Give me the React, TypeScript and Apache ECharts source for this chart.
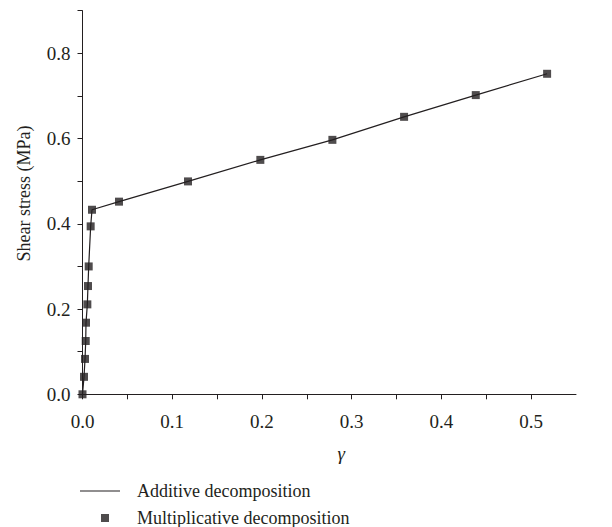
import React, { useEffect, useRef } from "react";
import * as echarts from "echarts";

const gammaValues = [
  0, 0.0017, 0.0028, 0.0036, 0.0039, 0.0054, 0.0061, 0.0069, 0.0091, 0.0106,
  0.0407, 0.1176, 0.1982, 0.2785, 0.3584, 0.4383, 0.5178,
];
const stressValues = [
  0, 0.041, 0.083, 0.125, 0.168, 0.211, 0.254, 0.3, 0.394, 0.433,
  0.452, 0.4995, 0.55, 0.597, 0.651, 0.702, 0.752,
];
const seriesNames = ["Additive decomposition", "Multiplicative decomposition"];
const xAxisName = "γ";
const yAxisName = "Shear stress (MPa)";

const INK = "#231f20";
const FONT = "'Liberation Serif', 'DejaVu Serif', serif";

export default function App() {
  const ref = useRef<HTMLDivElement>(null);
  useEffect(() => {
    if (!ref.current) return;
    const chart = echarts.init(ref.current, undefined, { renderer: "svg" });
    const pts = gammaValues.map((g, i) => [g, stressValues[i]]);
    chart.setOption({
      animation: false,
      backgroundColor: "#ffffff",
      textStyle: { fontFamily: FONT, color: INK },
      grid: { left: 82.5, right: 36, top: 10.7, bottom: 132.7, containLabel: false },
      xAxis: {
        type: "value",
        min: 0,
        max: 0.55,
        interval: 0.05,
        name: xAxisName,
        nameLocation: "middle",
        nameGap: 50,
        nameTextStyle: { fontFamily: FONT, fontSize: 19, fontStyle: "italic", color: INK, padding: [0, 0, 0, 24] },
        axisLine: { show: true, onZero: false, lineStyle: { color: INK, width: 1 } },
        axisTick: { show: true, inside: false, length: 5, lineStyle: { color: INK } },
        splitLine: { show: false },
        axisLabel: {
          fontFamily: FONT,
          fontSize: 19,
          color: INK,
          margin: 18,
          showMaxLabel: false,
          formatter: (v: number) => {
            const t = Math.round(v * 100);
            return t % 10 === 0 ? v.toFixed(1) : "";
          },
        },
      },
      yAxis: {
        type: "value",
        min: 0,
        max: 0.9,
        interval: 0.1,
        name: yAxisName,
        nameLocation: "middle",
        nameGap: 50,
        nameRotate: 90,
        nameTextStyle: { fontFamily: FONT, fontSize: 18, color: INK, padding: [0, 0, 0, 18] },
        axisLine: { show: true, onZero: false, lineStyle: { color: INK, width: 1 } },
        axisTick: { show: true, inside: false, length: 5, lineStyle: { color: INK } },
        splitLine: { show: false },
        axisLabel: {
          fontFamily: FONT,
          fontSize: 19,
          color: INK,
          margin: 12,
          formatter: (v: number) => {
            const t = Math.round(v * 10);
            return t % 2 === 0 ? v.toFixed(1) : "";
          },
        },
      },
      legend: [
        {
          data: [{ name: seriesNames[0], icon: "path://M0,0h40v1.2h-40z" }],
          left: 80,
          top: 482,
          padding: 0,
          itemWidth: 40,
          itemHeight: 14,
          textStyle: { fontFamily: FONT, fontSize: 18, color: INK, padding: [0, 0, 0, 12] },
        },
        {
          data: [{ name: seriesNames[1], icon: "rect" }],
          left: 101,
          top: 509,
          padding: 0,
          itemWidth: 8,
          itemHeight: 8,
          textStyle: { fontFamily: FONT, fontSize: 18, lineHeight: 18, color: INK, padding: [0, 0, 0, 23] },
        },
      ],
      series: [
        {
          name: seriesNames[0],
          type: "line",
          data: pts,
          symbol: "none",
          lineStyle: { color: INK, width: 1.2 },
          itemStyle: { color: INK },
          z: 2,
        },
        {
          name: seriesNames[1],
          type: "scatter",
          data: pts,
          symbol: "rect",
          symbolSize: 8,
          itemStyle: { color: INK },
          z: 3,
        },
      ],
    });
    return () => chart.dispose();
  }, []);
  return (
    <div
      ref={ref}
      style={{ position: "absolute", left: 0, top: 0, width: 612, height: 527 }}
    />
  );
}
